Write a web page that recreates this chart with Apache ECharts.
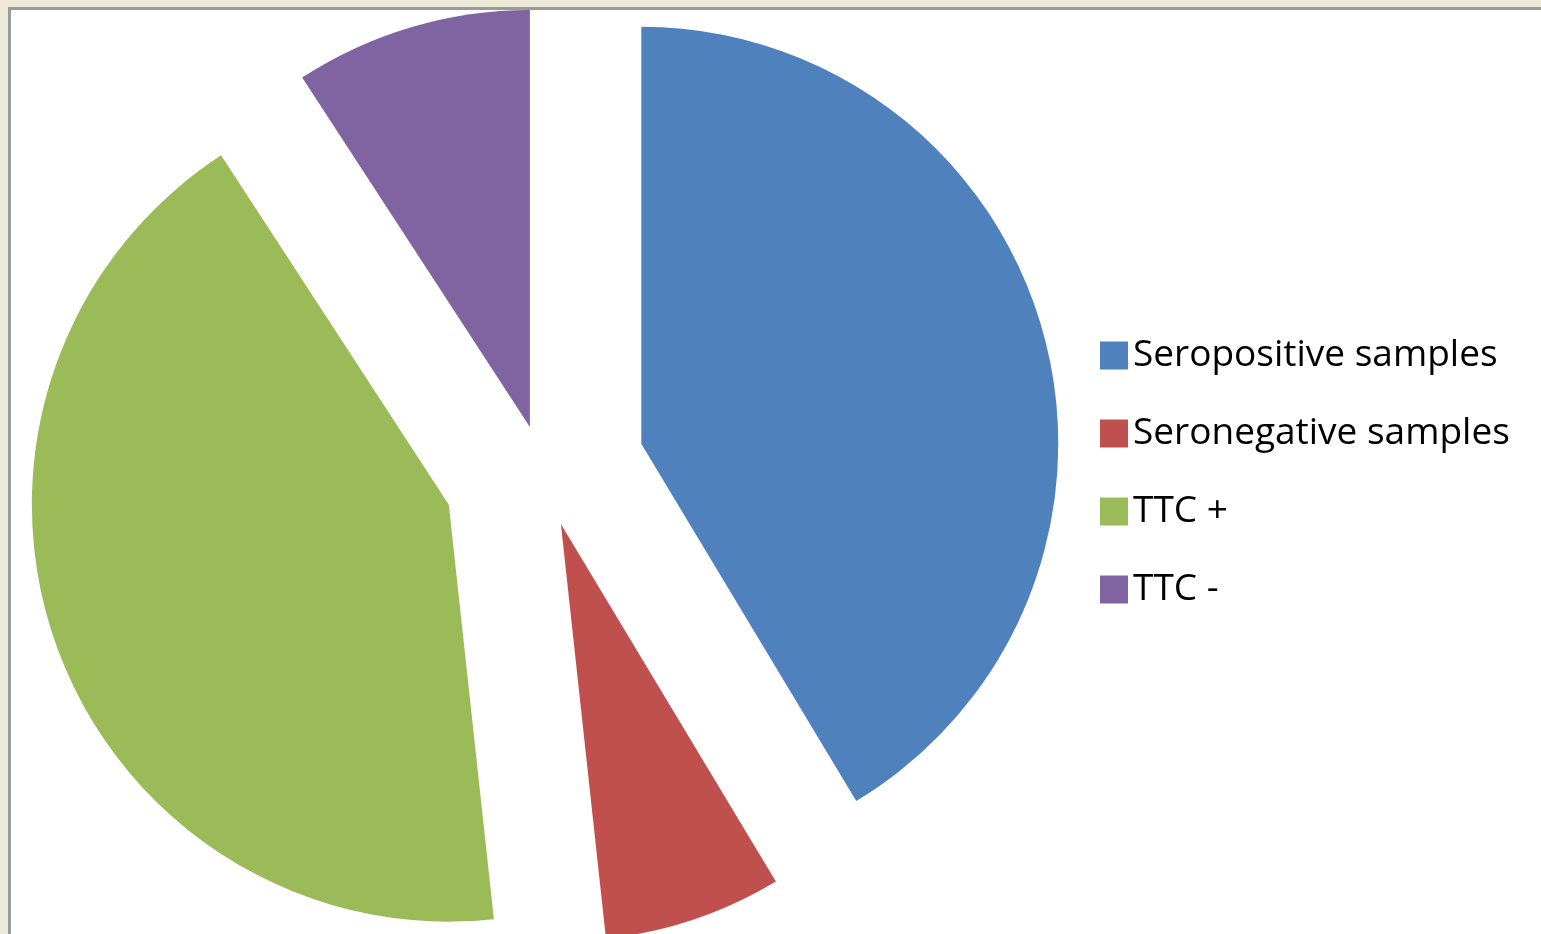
<!DOCTYPE html>
<html><head><meta charset="utf-8">
<script src="https://cdn.jsdelivr.net/npm/echarts@6/dist/echarts.min.js"></script>
<style>html,body{margin:0;padding:0;background:#ECE9D8;overflow:hidden}#c{width:1541px;height:934px;}</style>
</head><body><div id="c"></div>
<script>
const categories = ['Seropositive samples', 'Seronegative samples', 'TTC +', 'TTC -'];
const values = [36, 6, 37, 8];
const colors = ['#4F81BD', '#C0504D', '#9BBB59', '#8064A2'];
// explosion distance of each slice (pixels)
const explode = [102, 56, 100, 46];

const chart = echarts.init(document.getElementById('c'), null, {renderer: 'canvas'});

// one pie layer per slice: same angles for all, only its own slice visible and pulled out
function makeSeries(k) {
  return {
    type: 'pie',
    center: [543, 471],
    radius: 417,
    startAngle: 90,
    clockwise: true,
    selectedMode: 'multiple',
    selectedOffset: explode[k],
    avoidLabelOverlap: false,
    label: {show: false},
    labelLine: {show: false},
    emphasis: {disabled: true, scale: false},
    animation: false,
    data: categories.map((n, i) => ({
      name: n,
      value: values[i],
      selected: i === k,
      itemStyle: {color: i === k ? colors[i] : 'rgba(0,0,0,0)', borderWidth: 0}
    }))
  };
}

chart.setOption({
  backgroundColor: '#ECE9D8',
  animation: false,
  graphic: [{
    type: 'rect', z: -1, silent: true,
    shape: {x: 9.5, y: 8.5, width: 1600, height: 1000},
    style: {fill: '#ffffff', stroke: '#9a9a9a', lineWidth: 3}
  }],
  legend: {
    orient: 'vertical',
    left: 1095,
    top: 332,
    icon: 'rect',
    itemWidth: 28,
    itemHeight: 28,
    itemGap: 41,
    selectedMode: false,
    textStyle: {fontFamily: 'Open Sans', fontSize: 37, color: '#000'},
    data: categories.map((n, i) => ({name: n, itemStyle: {color: colors[i]}}))
  },
  series: categories.map((n, k) => makeSeries(k))
});
</script></body></html>
